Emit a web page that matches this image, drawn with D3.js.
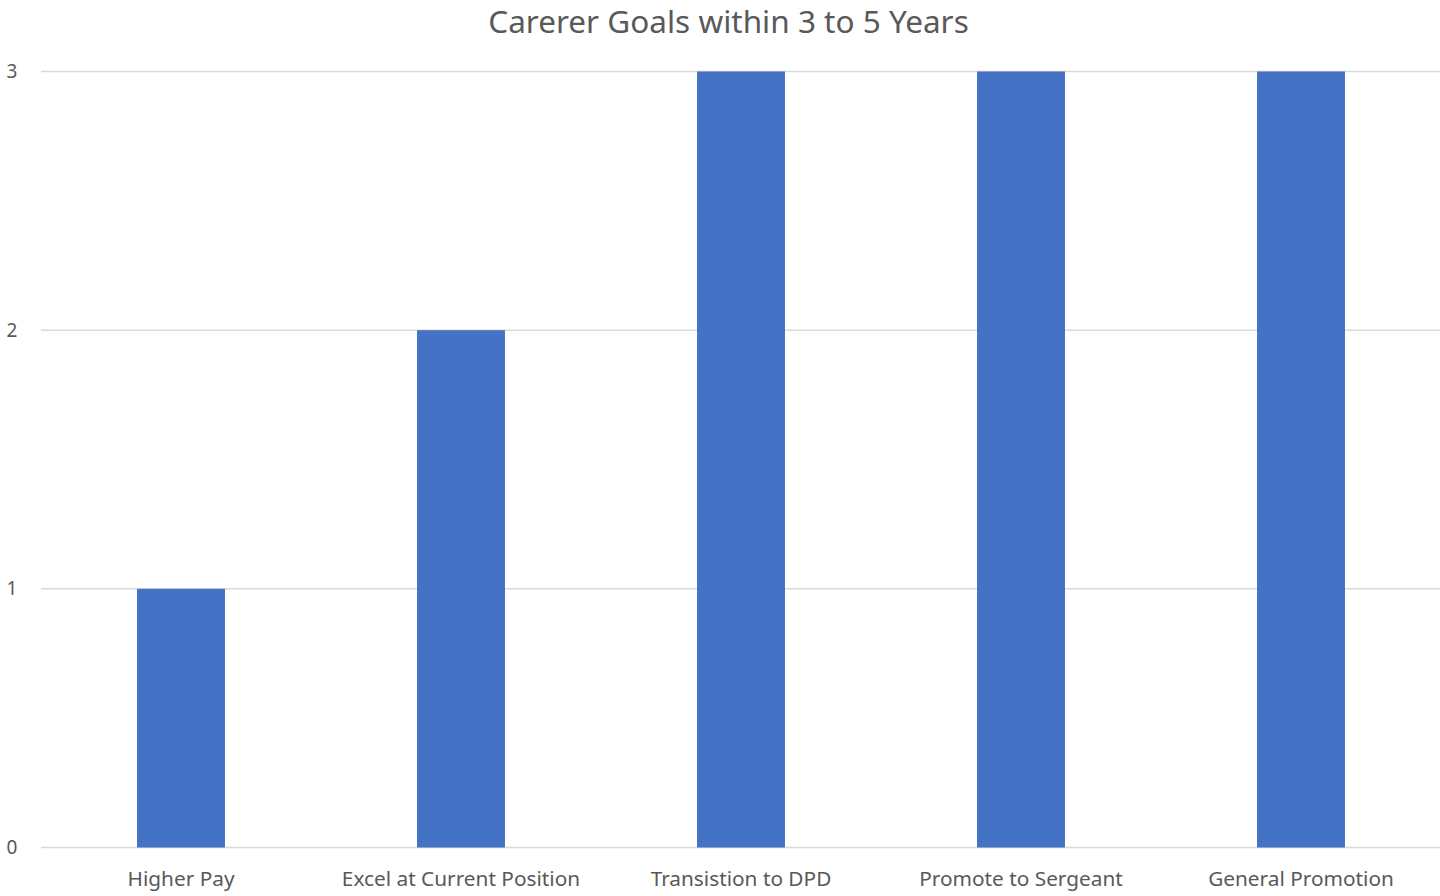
<!DOCTYPE html>
<html><head><meta charset="utf-8">
<script src="https://cdn.jsdelivr.net/npm/d3@7/dist/d3.min.js"></script>
<style>body{margin:0;background:#fff;} svg{display:block;}</style>
</head><body>
<svg id="c" width="1440" height="896"></svg>
<script>
const categories = ["Higher Pay","Excel at Current Position","Transistion to DPD","Promote to Sergeant","General Promotion"];
const values = [1,2,3,3,3];
const yTicks = [0,1,2,3];
const title = "Carerer Goals within 3 to 5 Years";

const svg = d3.select("#c");
const font = "'Noto Sans', sans-serif";
const x = d3.scaleBand().domain(categories).range([41,1441]).paddingInner(0.686).paddingOuter(0.343);
const y = d3.scaleLinear().domain([0,3]).range([847.5,71.5]);

svg.append("g").selectAll("line").data(yTicks).join("line")
  .attr("x1",41).attr("x2",1440).attr("y1",d=>y(d)).attr("y2",d=>y(d))
  .attr("stroke","#d9d9d9").attr("stroke-width",1.5);

svg.append("g").selectAll("text").data(yTicks).join("text")
  .attr("x",12).attr("y",d=>y(d)).attr("dy","0.35em").attr("text-anchor","middle")
  .attr("font-family",font).attr("font-size",19).attr("fill","#595959").text(d=>d);

svg.append("g").selectAll("rect").data(values).join("rect")
  .attr("x",(d,i)=>x(categories[i])).attr("width",x.bandwidth())
  .attr("y",d=>y(d)).attr("height",d=>y(0)-y(d)).attr("fill","#4472C4");

svg.append("g").selectAll("text").data(categories).join("text")
  .attr("x",d=>x(d)+x.bandwidth()/2).attr("y",886).attr("text-anchor","middle")
  .attr("font-family",font).attr("font-size",20.8).attr("fill","#595959").text(d=>d);

svg.append("text").attr("x",728.5).attr("y",33).attr("text-anchor","middle")
  .attr("font-family",font).attr("font-size",31.5).attr("fill","#595959").text(title);
</script>
</body></html>
